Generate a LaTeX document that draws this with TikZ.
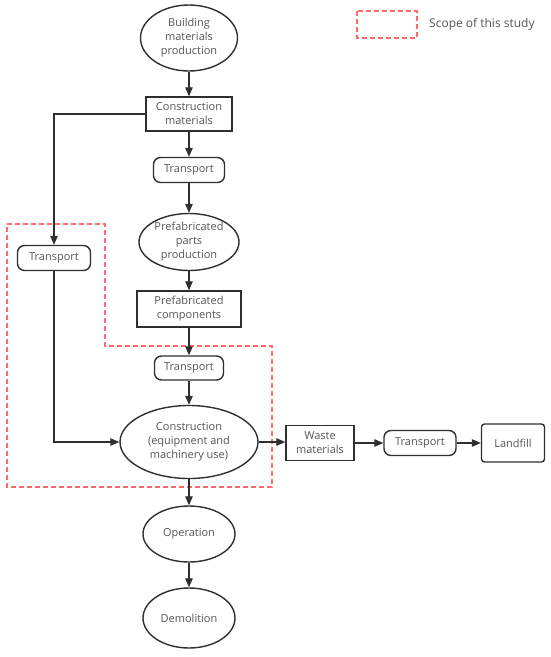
\documentclass[tikz,border=0pt]{standalone}
\usepackage{fontspec}
\setmainfont{Open Sans}
\usetikzlibrary{shapes.geometric,arrows.meta,positioning}
\definecolor{ln}{HTML}{2F2F2F}
\definecolor{tx}{HTML}{555555}
\definecolor{scope}{HTML}{FF6B6B}
\tikzset{
  base/.style={draw=ln,line width=1.4pt,text=tx,font=\fontsize{11}{14}\selectfont,align=center,inner sep=0pt},
  oval/.style={base,ellipse},
  boxn/.style={base,rectangle},
  pill/.style={base,rectangle,rounded corners=7pt},
  rbox/.style={base,rectangle,rounded corners=3pt},
  arr/.style={draw=ln,line width=1.1pt,-{Triangle[length=9pt,width=7.5pt]}},
  scopeline/.style={draw=scope,line width=1.1pt,dash pattern=on 5pt off 3pt}
}
\begin{document}
\begin{tikzpicture}[x=1pt,y=-1pt]
\useasboundingbox (0,0) rectangle (550,657);
% scope region
\draw[scopeline] (7,224) -- (105,224) -- (105,346) -- (272,346) -- (272,487) -- (7,487) -- cycle;
% legend
\draw[scopeline] (357,11) rectangle (417,38);
\node[anchor=west,text=tx,font=\fontsize{12}{14}\selectfont,inner sep=0pt] (leg) at (429,24) {Scope of this study};
% nodes
\node[oval,minimum width=97pt,minimum height=66pt] (bmp) at (189,38) {Building\\materials\\production};
\node[boxn,minimum width=86pt,minimum height=34pt] (cm) at (189,114) {Construction\\materials};
\node[pill,minimum width=71pt,minimum height=25pt] (t1) at (189,170) {Transport};
\node[oval,minimum width=100pt,minimum height=57pt] (ppp) at (189,242) {Prefabricated\\parts\\production};
\node[boxn,minimum width=104pt,minimum height=36pt] (pc) at (189,309) {Prefabricated\\components};
\node[pill,minimum width=69pt,minimum height=24pt] (t2) at (189,368) {Transport};
\node[oval,minimum width=138pt,minimum height=73pt] (con) at (189,442) {Construction\\(equipment and\\machinery use)};
\node[pill,minimum width=73pt,minimum height=25pt] (tl) at (54,258) {Transport};
\node[boxn,minimum width=68pt,minimum height=35pt] (wm) at (320,443) {Waste\\materials};
\node[pill,minimum width=72pt,minimum height=25pt] (tr) at (420,443) {Transport};
\node[rbox,minimum width=63pt,minimum height=38pt] (lf) at (513,443) {Landfill};
\node[oval,minimum width=92pt,minimum height=56pt] (op) at (189,534) {Operation};
\node[oval,minimum width=92pt,minimum height=60pt] (dm) at (189,618) {Demolition};
% connectors
\draw[arr] (bmp) -- (cm);
\draw[arr] (cm) -- (t1);
\draw[arr] (t1) -- (ppp);
\draw[arr] (ppp) -- (pc);
\draw[arr] (pc) -- (t2);
\draw[arr] (t2) -- (con);
\draw[arr] (con.south) -- (op);
\draw[arr] (op) -- (dm);
\draw[arr] (con.east) -- (wm.west |- con.east);
\draw[arr] (wm) -- (tr);
\draw[arr] (tr) -- (lf);
\draw[arr] (cm.west) -| (tl.north);
\draw[arr] (tl.south) |- (con.west);
\end{tikzpicture}
\end{document}
